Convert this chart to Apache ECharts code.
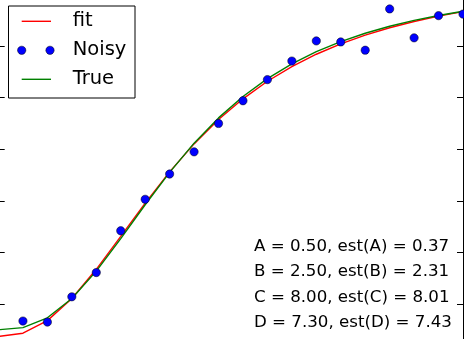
<!DOCTYPE html>
<html><head><meta charset="utf-8">
<script src="https://cdn.jsdelivr.net/npm/echarts@6/dist/echarts.min.js"></script>
<style>html,body{margin:0;padding:0;background:#fff}#c{width:464px;height:339px}</style>
</head><body><div id="c"></div>
<script>
// x sample positions (20 points from 0 to 20)
const xValues = [0, 1.0526, 2.1053, 3.1579, 4.2105, 5.2632, 6.3158, 7.3684, 8.4211, 9.4737,
  10.5263, 11.5789, 12.6316, 13.6842, 14.7368, 15.7895, 16.8421, 17.8947, 18.9474, 20];
const fitValues = [0.37, 0.434, 0.678, 1.107, 1.673, 2.311, 2.955, 3.561, 4.104, 4.576,
  4.978, 5.318, 5.603, 5.842, 6.043, 6.212, 6.355, 6.476, 6.580, 6.669];
const noisyValues = [0.1, 0.67, 0.65, 1.14, 1.61, 2.42, 3.03, 3.52, 3.95, 4.50,
  4.94, 5.35, 5.71, 6.10, 6.08, 5.92, 6.72, 6.16, 6.59, 6.62];
const trueValues = [0.5, 0.543, 0.733, 1.106, 1.638, 2.267, 2.924, 3.552, 4.118, 4.608,
  5.023, 5.368, 5.655, 5.891, 6.087, 6.249, 6.385, 6.498, 6.594, 6.675];
const seriesNames = ['fit', 'Noisy', 'True'];
const annotationLines = [
  'A = 0.50, est(A) = 0.37',
  'B = 2.50, est(B) = 2.31',
  'C = 8.00, est(C) = 8.01',
  'D = 7.30, est(D) = 7.43'
];
const xMin = 0, xMax = 20, xInterval = 5;
const yMin = 0, yMax = 7, yInterval = 1;

const pair = (ys) => xValues.map((x, i) => [x, ys[i]]);
const FONT = '"DejaVu Sans", "Liberation Sans", sans-serif';

const chart = echarts.init(document.getElementById('c'), null, {renderer: 'canvas'});

const legendGraphics = [
  {type: 'rect', shape: {x: 8.5, y: 6, width: 126.5, height: 92}, style: {fill: '#fff', stroke: '#000', lineWidth: 1}, z: 100},
  {type: 'line', shape: {x1: 21.7, y1: 21.3, x2: 51, y2: 21.3}, style: {stroke: '#ff0000', lineWidth: 1.4}, z: 101},
  {type: 'circle', shape: {cx: 21.7, cy: 50.3, r: 4.15}, style: {fill: '#0000ff', stroke: '#000', lineWidth: 0.5}, z: 101},
  {type: 'circle', shape: {cx: 50, cy: 50.3, r: 4.15}, style: {fill: '#0000ff', stroke: '#000', lineWidth: 0.5}, z: 101},
  {type: 'line', shape: {x1: 21.7, y1: 79.3, x2: 51, y2: 79.3}, style: {stroke: '#008000', lineWidth: 1.4}, z: 101}
];
seriesNames.forEach((n, i) => {
  legendGraphics.push({type: 'text', x: 72.7, y: 21.3 + 29 * i, z: 101,
    style: {text: n, fill: '#000', font: '19.5px ' + FONT, textVerticalAlign: 'middle', textAlign: 'left'}});
});
annotationLines.forEach((t, i) => {
  legendGraphics.push({type: 'text', x: 254, y: 246.5 + 25.5 * i, z: 101,
    style: {text: t, fill: '#000', font: '16.67px ' + FONT, textVerticalAlign: 'middle', textAlign: 'left'}});
});

chart.setOption({
  backgroundColor: '#ffffff',
  animation: false,
  grid: {left: -1.5, top: -5.5, width: 464.5, height: 361.1, containLabel: false, outerBoundsMode: 'none'},
  xAxis: {
    type: 'value', position: 'top', min: xMin, max: xMax, interval: xInterval,
    axisLine: {show: true, lineStyle: {color: '#000', width: 1}},
    axisTick: {show: true, inside: true, length: 8, lineStyle: {color: '#000', width: 1}},
    axisLabel: {show: false}, splitLine: {show: false}
  },
  yAxis: [
    {type: 'value', position: 'left', min: yMin, max: yMax, interval: yInterval,
      axisLine: {show: true, lineStyle: {color: '#000', width: 1}},
      axisTick: {show: true, inside: true, length: 6.2, lineStyle: {color: '#000', width: 1}},
      axisLabel: {show: false}, splitLine: {show: false}},
    {type: 'value', position: 'right', min: yMin, max: yMax, interval: yInterval,
      axisLine: {show: true, lineStyle: {color: '#000', width: 1}},
      axisTick: {show: true, inside: true, length: 6, lineStyle: {color: '#000', width: 1}},
      axisLabel: {show: false}, splitLine: {show: false}}
  ],
  series: [
    {name: seriesNames[0], type: 'line', data: pair(fitValues), showSymbol: false, symbol: 'none',
      lineStyle: {color: '#ff0000', width: 1.4}, itemStyle: {color: '#ff0000'}, z: 2},
    {name: seriesNames[1], type: 'scatter', data: pair(noisyValues), symbol: 'circle', symbolSize: 8.3,
      itemStyle: {color: '#0000ff', borderColor: '#000', borderWidth: 0.5, opacity: 1}, z: 2},
    {name: seriesNames[2], type: 'line', data: pair(trueValues), showSymbol: false, symbol: 'none',
      lineStyle: {color: '#008000', width: 1.4}, itemStyle: {color: '#008000'}, z: 2}
  ],
  graphic: legendGraphics
});
</script>
</body></html>
